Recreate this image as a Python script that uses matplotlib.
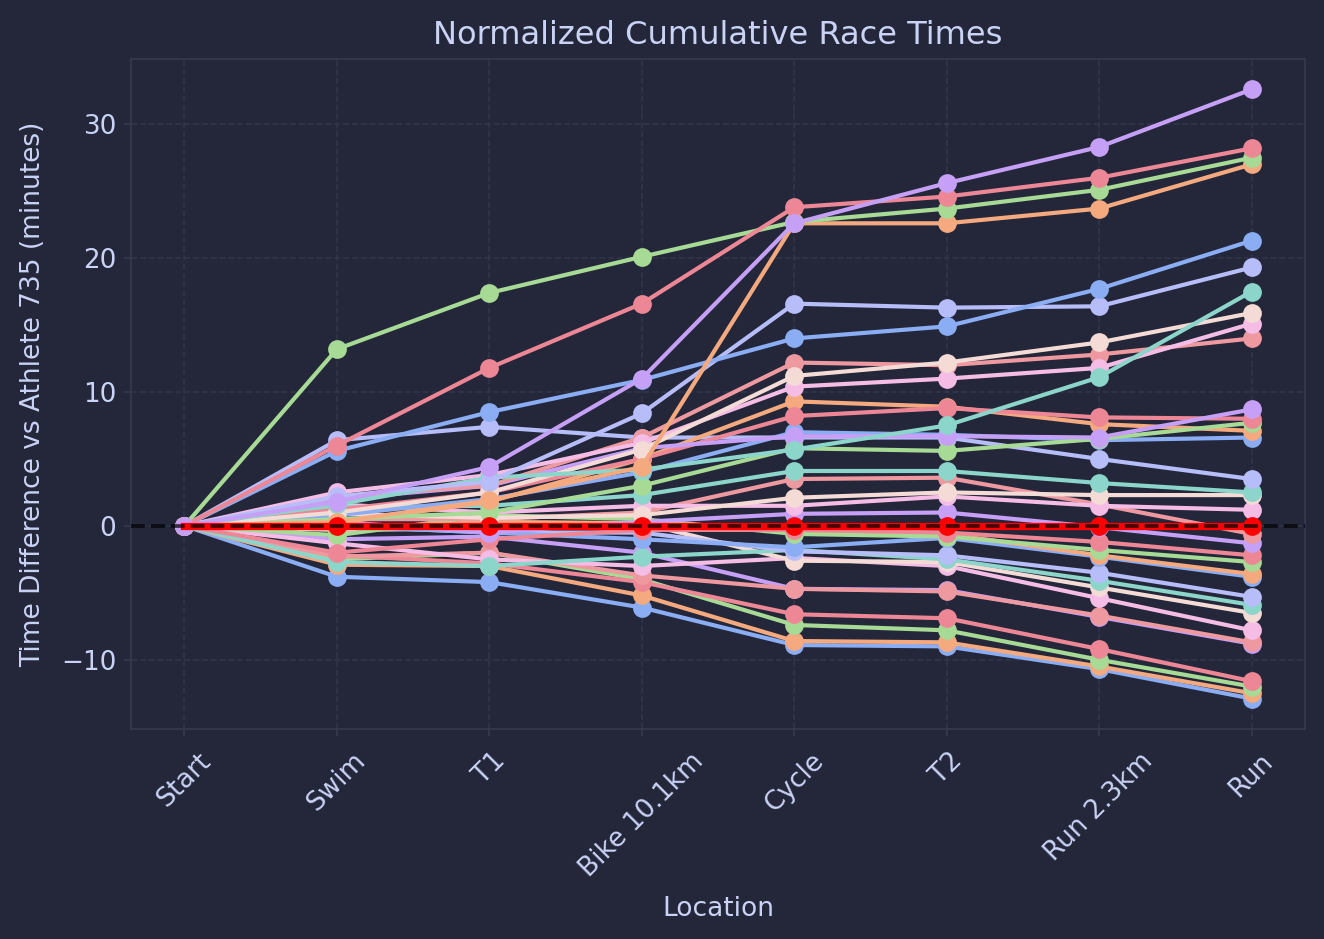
import matplotlib.pyplot as plt
from cycler import cycler

# catppuccin-macchiato-ish look
bg = '#24273a'
fg = '#cad3f5'
grid_c = '#363a4f'
palette = ['#8aadf4', '#f5a97f', '#a6da95', '#ed8796', '#c6a0f6',
           '#ee99a0', '#f5bde6', '#f4dbd6', '#8bd5ca', '#b7bdf8']

plt.rcParams['axes.prop_cycle'] = cycler(color=palette)

locations = ['Start', 'Swim', 'T1', 'Bike 10.1km', 'Cycle', 'T2', 'Run 2.3km', 'Run']
ref_athlete = 735

# minutes relative to athlete 735, athletes ordered by finish (fastest first)
group_fast = [
    [0, -3.8, -4.2, -6.1, -8.9, -9.0, -10.7, -12.9],
    [0, -2.9, -3.0, -5.2, -8.6, -8.7, -10.5, -12.5],
    [0, -2.5, -2.0, -4.0, -7.4, -7.8, -10.0, -12.0],
    [0, -2.2, -2.8, -4.2, -6.6, -6.9, -9.2, -11.6],
    [0, -1.0, -0.8, -2.0, -4.7, -4.8, -6.8, -8.8],
    [0, -2.3, -2.0, -3.7, -4.7, -4.9, -6.7, -8.7],
    [0, -1.3, -2.5, -3.0, -2.4, -3.0, -5.4, -7.8],
    [0, -0.3, -0.2, 0.2, -2.6, -2.7, -4.6, -6.5],
    [0, -2.7, -3.0, -2.3, -1.8, -2.5, -4.1, -5.9],
    [0, 0.0, -0.5, -0.5, -1.9, -2.2, -3.5, -5.3],
]
group_ahead = [
    [0, 0.0, -0.5, -1.0, -1.6, -0.9, -2.3, -3.8],
    [0, -0.2, 0.3, 0.2, -0.4, -0.6, -2.2, -3.6],
    [0, -0.7, 0.8, 0.5, -0.6, -0.8, -1.8, -2.7],
    [0, -2.0, -1.0, -0.3, -0.3, -0.5, -1.2, -2.2],
    [0, 0.3, -0.5, 0.3, 0.9, 1.0, -0.1, -1.3],
    [0, 0.5, 0.5, 1.0, 3.5, 3.6, 1.6, -0.6],
]
ref_times = [0, 0, 0, 0, 0, 0, 0, 0]
group_behind = [
    [0, 1.6, 1.0, 1.5, 1.5, 2.2, 1.5, 1.2],
    [0, 0.9, 0.6, 0.8, 2.1, 2.5, 2.3, 2.3],
    [0, 1.4, 1.5, 2.3, 4.1, 4.1, 3.2, 2.5],
    [0, 6.4, 7.4, 6.6, 6.6, 6.6, 5.0, 3.5],
]
group_slow = [
    [0, 0.8, 2.0, 4.0, 7.0, 6.8, 6.4, 6.6],
    [0, 0.2, 1.8, 5.0, 9.3, 8.9, 7.6, 7.1],
    [0, 0.5, 1.0, 3.0, 5.8, 5.6, 6.5, 7.7],
    [0, 1.2, 2.5, 5.0, 8.2, 8.8, 8.1, 8.0],
    [0, 2.0, 3.0, 5.8, 6.7, 6.7, 6.6, 8.7],
    [0, 2.2, 3.0, 6.6, 12.2, 12.0, 12.8, 14.0],
    [0, 2.5, 3.8, 6.2, 10.4, 11.0, 11.8, 15.1],
    [0, 1.0, 2.5, 5.7, 11.2, 12.2, 13.7, 15.9],
    [0, 1.6, 3.6, 4.2, 5.7, 7.5, 11.1, 17.5],
    [0, 2.2, 3.3, 8.4, 16.6, 16.3, 16.4, 19.3],
]
group_last = [
    [0, 5.6, 8.5, 10.9, 14.0, 14.9, 17.7, 21.3],
    [0, 0.3, 1.9, 4.4, 22.6, 22.6, 23.7, 27.0],
    [0, 13.2, 17.4, 20.1, 22.7, 23.7, 25.1, 27.5],
    [0, 6.0, 11.8, 16.6, 23.8, 24.6, 26.0, 28.2],
    [0, 1.8, 4.4, 11.0, 22.6, 25.6, 28.3, 32.6],
]

fig = plt.figure(figsize=(8.8267, 6.26), dpi=150, facecolor=bg)
ax = fig.add_axes([0.099, 0.2236, 0.8866, 0.7136])
ax.set_facecolor(bg)

x = range(len(locations))
for athlete in group_fast + group_ahead:
    ax.plot(x, athlete, marker='o', linewidth=2, markersize=8)
for athlete in group_behind + group_slow + group_last:
    ax.plot(x, athlete, marker='o', linewidth=2, markersize=8)
# reference athlete on top (start marker left to the others)
ax.plot(x, ref_times, color='red', marker='o', linewidth=3.5, markersize=8,
        markevery=list(range(1, len(locations))), zorder=2.1)

ax.axhline(0, color='black', linestyle='--', linewidth=1.8, alpha=0.7, zorder=4)

ax.set_xticks(list(x))
ax.set_xticklabels(locations, rotation=45)
ax.set_title('Normalized Cumulative Race Times', color=fg, fontsize=15.4, pad=7)
ax.set_xlabel('Location', color=fg, fontsize=12.7, labelpad=7)
ax.set_ylabel(f'Time Difference vs Athlete {ref_athlete} (minutes)', color=fg,
              fontsize=12.7, labelpad=7)
ax.tick_params(colors=fg, labelsize=12.6)
ax.tick_params(axis='x', pad=5.5)
ax.tick_params(axis='both', color=grid_c)
for s in ax.spines.values():
    s.set_color(grid_c)
ax.grid(True, linestyle='--', color=grid_c, alpha=0.7)

fig.savefig('out.png', dpi=150, facecolor=bg)
